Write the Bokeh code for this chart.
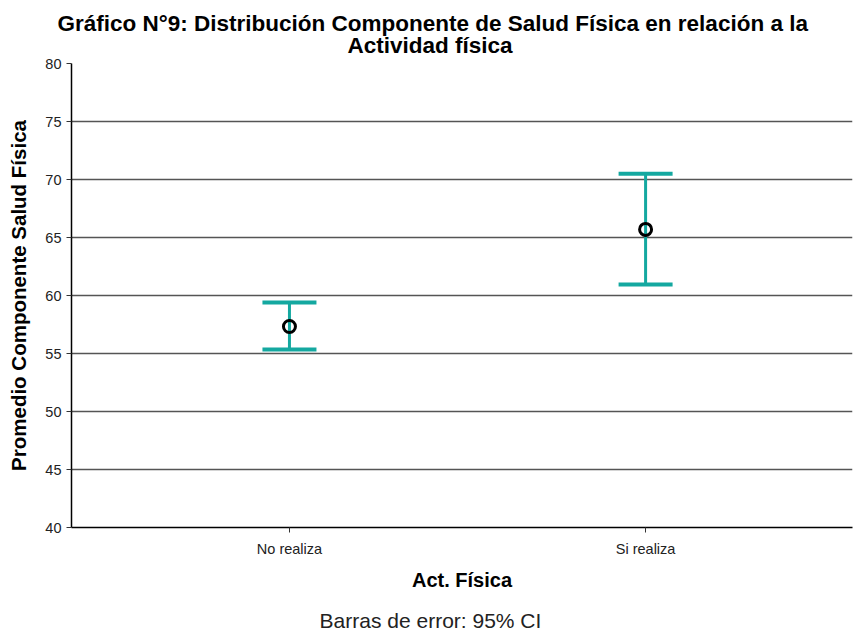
from bokeh.plotting import figure
from bokeh.models import (Range1d, FixedTicker, Whisker, TeeHead, ColumnDataSource, Title, LinearAxis)
from bokeh.embed import file_html
from bokeh.resources import INLINE

# ---- data ----
categories = ["No realiza", "Si realiza"]
means = [57.33, 65.7]
ci_lower = [55.35, 60.95]
ci_upper = [59.4, 70.5]
y_ticks = [40, 45, 50, 55, 60, 65, 70, 75, 80]

title_lines = ["Gráfico N°9:  Distribución Componente de Salud Física en relación a la",
               "Actividad física"]
x_title = "Act. Física"
y_title = "Promedio Componente Salud Física"
footnote = "Barras de error: 95% CI"

TEAL = "#14a8a0"
FONT = "Liberation Sans"

positions = [i + 1 for i in range(len(categories))]
src = ColumnDataSource(dict(x=positions, mean=means, lower=ci_lower, upper=ci_upper))

p = figure(width=854, height=634, output_backend="svg", toolbar_location=None,
           x_range=Range1d(0.388, 2.581), y_range=Range1d(40, 80),
           min_border_left=71, min_border_right=2, min_border_top=63, min_border_bottom=107)
p.background_fill_color = "white"
p.border_fill_color = "white"
p.outline_line_color = None

# grid
p.xgrid.grid_line_color = None
p.ygrid.ticker = FixedTicker(ticks=y_ticks)
p.ygrid.grid_line_color = "#555555"
p.ygrid.grid_line_width = 1.4

# y axis
p.yaxis.ticker = FixedTicker(ticks=y_ticks)
p.yaxis.major_tick_in = 0
p.yaxis.major_tick_out = 5
p.yaxis.minor_tick_line_color = None
p.yaxis.axis_line_color = "black"
p.yaxis.axis_line_width = 1.5
p.yaxis.major_tick_line_color = "#333333"
p.yaxis.major_label_text_font = FONT
p.yaxis.major_label_text_font_size = "14.5px"
p.yaxis.major_label_text_color = "#222222"
p.yaxis.major_label_standoff = 5
p.yaxis.axis_label = y_title
p.yaxis.axis_label_text_font = FONT
p.yaxis.axis_label_text_font_size = "20.5px"
p.yaxis.axis_label_text_font_style = "bold"
p.yaxis.axis_label_text_color = "black"
p.yaxis.axis_label_standoff = 12

# x axis
p.xaxis.ticker = FixedTicker(ticks=positions)
p.xaxis.major_label_overrides = {pos: cat for pos, cat in zip(positions, categories)}
p.xaxis.major_tick_in = 0
p.xaxis.major_tick_out = 5
p.xaxis.minor_tick_line_color = None
p.xaxis.axis_line_color = "black"
p.xaxis.axis_line_width = 1.5
p.xaxis.major_tick_line_color = "#333333"
p.xaxis.major_label_text_font = FONT
p.xaxis.major_label_text_font_size = "14.5px"
p.xaxis.major_label_text_color = "#222222"
p.xaxis.major_label_standoff = 8
p.xaxis.axis_label = x_title
p.xaxis.axis_label_text_font = FONT
p.xaxis.axis_label_text_font_size = "20px"
p.xaxis.axis_label_text_font_style = "bold"
p.xaxis.axis_label_text_color = "black"
p.xaxis.axis_label_standoff = 9

# footnote: an extra, line-less axis below the axis title
footnote_x = 1.396
note_axis = LinearAxis(ticker=FixedTicker(ticks=[footnote_x]),
                       major_label_overrides={footnote_x: footnote},
                       axis_line_color=None, major_tick_line_color=None,
                       minor_tick_line_color=None, major_tick_in=0, major_tick_out=0,
                       major_label_standoff=15, major_label_text_font=FONT,
                       major_label_text_font_size="21px", major_label_text_color="#222222")
p.add_layout(note_axis, "below")

# error bars
w = Whisker(source=src, base="x", upper="upper", lower="lower",
            line_color=TEAL, line_width=3,
            upper_head=TeeHead(size=54, line_color=TEAL, line_width=4),
            lower_head=TeeHead(size=54, line_color=TEAL, line_width=4))
p.add_layout(w)

# means
p.scatter("x", "mean", source=src, marker="circle", size=12, fill_color=None,
          line_color="black", line_width=3)

# title (two lines, outermost added last)
p.add_layout(Title(text=title_lines[1], align="left", offset=276, standoff=12,
                   text_font=FONT, text_font_size="22.5px", text_font_style="bold",
                   text_color="black"), "above")
p.add_layout(Title(text=title_lines[0], align="left", offset=-14, standoff=-22,
                   text_font=FONT, text_font_size="22.5px", text_font_style="bold",
                   text_color="black"), "above")

open("out.html", "w").write(file_html(p, INLINE))
